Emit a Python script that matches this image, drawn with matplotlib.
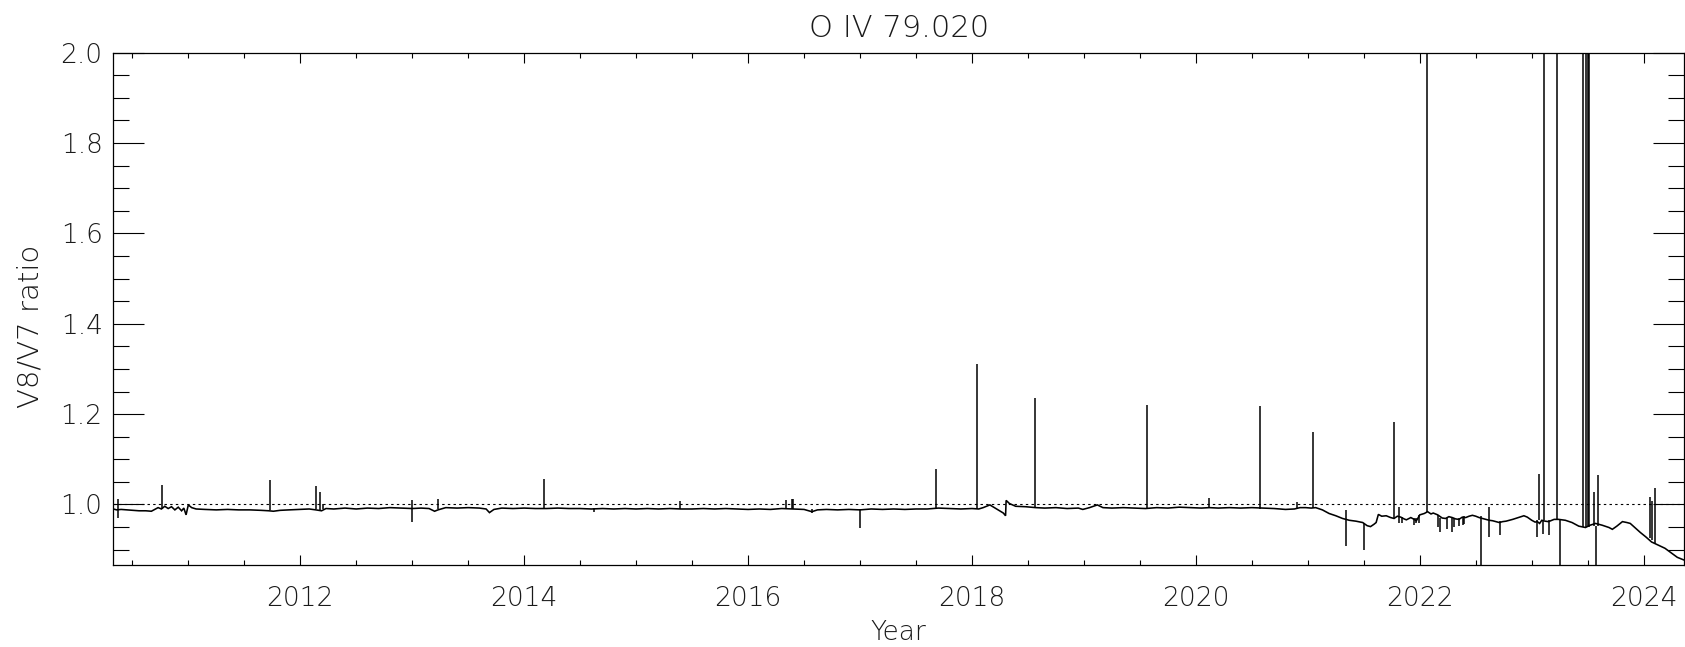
import matplotlib
matplotlib.use('Agg')
import matplotlib.pyplot as plt
from matplotlib.ticker import MultipleLocator

# ---------------- data ----------------
years = [
    2010.33, 2010.36, 2010.40, 2010.45, 2010.50, 2010.56, 2010.62, 2010.67, 2010.70, 2010.73,
    2010.76, 2010.79, 2010.82, 2010.85, 2010.88, 2010.91, 2010.94, 2010.96, 2010.98, 2011.00,
    2011.03, 2011.07, 2011.15, 2011.25, 2011.35, 2011.45, 2011.55, 2011.65, 2011.72, 2011.76,
    2011.82, 2011.90, 2012.00, 2012.08, 2012.14, 2012.19, 2012.23, 2012.30, 2012.40, 2012.50,
    2012.60, 2012.70, 2012.80, 2012.90, 2013.00, 2013.08, 2013.15, 2013.20, 2013.23, 2013.30,
    2013.40, 2013.50, 2013.60, 2013.66, 2013.69, 2013.73, 2013.80, 2013.90, 2014.00, 2014.10,
    2014.20, 2014.30, 2014.40, 2014.50, 2014.60, 2014.70, 2014.80, 2014.90, 2015.00, 2015.10,
    2015.20, 2015.30, 2015.40, 2015.50, 2015.60, 2015.70, 2015.80, 2015.90, 2016.00, 2016.10,
    2016.20, 2016.30, 2016.40, 2016.50, 2016.57, 2016.62, 2016.70, 2016.80, 2016.90, 2017.00,
    2017.10, 2017.20, 2017.30, 2017.40, 2017.50, 2017.60, 2017.70, 2017.80, 2017.90, 2018.00,
    2018.06, 2018.10, 2018.16, 2018.20, 2018.245, 2018.28, 2018.30, 2018.305, 2018.335, 2018.39,
    2018.48, 2018.57, 2018.65, 2018.75, 2018.85, 2018.95, 2018.99, 2019.05, 2019.12, 2019.17,
    2019.25, 2019.35, 2019.45, 2019.55, 2019.65, 2019.75, 2019.85, 2019.95, 2020.05, 2020.12,
    2020.20, 2020.30, 2020.40, 2020.50, 2020.60, 2020.70, 2020.80, 2020.88, 2020.93, 2020.98,
    2021.03, 2021.07, 2021.13, 2021.19, 2021.25, 2021.31, 2021.37, 2021.43, 2021.49, 2021.53,
    2021.56, 2021.59, 2021.61, 2021.63, 2021.66, 2021.70, 2021.74, 2021.77, 2021.80, 2021.83,
    2021.86, 2021.88, 2021.92, 2021.95, 2021.97, 2022.00, 2022.04, 2022.07, 2022.10, 2022.12,
    2022.16, 2022.20, 2022.23, 2022.26, 2022.29, 2022.32, 2022.35, 2022.38, 2022.41, 2022.44,
    2022.47, 2022.50, 2022.53, 2022.56, 2022.59, 2022.62, 2022.65, 2022.68, 2022.71, 2022.74,
    2022.77, 2022.80, 2022.83, 2022.88, 2022.93, 2022.96, 2023.00, 2023.03, 2023.05, 2023.07,
    2023.09, 2023.12, 2023.15, 2023.20, 2023.24, 2023.30, 2023.36, 2023.42, 2023.48, 2023.52,
    2023.57, 2023.63, 2023.69, 2023.72, 2023.76, 2023.81, 2023.85, 2023.88, 2023.93, 2023.97,
    2024.02, 2024.07, 2024.13, 2024.19, 2024.25, 2024.30, 2024.36,
]
ratio = [
    0.990, 0.988, 0.989, 0.988, 0.987, 0.986, 0.986, 0.985, 0.989, 0.993,
    0.990, 0.996, 0.991, 0.995, 0.988, 0.994, 0.986, 0.992, 0.977, 0.999,
    0.993, 0.990, 0.989, 0.988, 0.989, 0.988, 0.988, 0.987, 0.986, 0.985,
    0.987, 0.988, 0.989, 0.990, 0.988, 0.986, 0.991, 0.990, 0.992, 0.990,
    0.992, 0.991, 0.993, 0.992, 0.991, 0.992, 0.991, 0.985, 0.988, 0.993,
    0.992, 0.993, 0.992, 0.990, 0.982, 0.989, 0.992, 0.991, 0.992, 0.991,
    0.991, 0.992, 0.991, 0.991, 0.990, 0.991, 0.990, 0.991, 0.990, 0.991,
    0.990, 0.991, 0.990, 0.990, 0.991, 0.990, 0.991, 0.990, 0.989, 0.990,
    0.989, 0.991, 0.990, 0.989, 0.984, 0.988, 0.989, 0.988, 0.989, 0.988,
    0.990, 0.989, 0.990, 0.989, 0.990, 0.990, 0.992, 0.991, 0.990, 0.991,
    0.990, 0.993, 0.999, 0.993, 0.986, 0.981, 0.975, 1.009, 1.002, 0.996,
    0.995, 0.993, 0.992, 0.993, 0.991, 0.992, 0.989, 0.993, 0.999, 0.993,
    0.992, 0.993, 0.992, 0.991, 0.993, 0.992, 0.994, 0.993, 0.992, 0.993,
    0.992, 0.993, 0.992, 0.993, 0.992, 0.991, 0.989, 0.990, 0.993, 0.993,
    0.992, 0.993, 0.988, 0.980, 0.975, 0.969, 0.965, 0.963, 0.960, 0.953,
    0.951, 0.956, 0.960, 0.978, 0.974, 0.975, 0.971, 0.969, 0.974, 0.972,
    0.968, 0.966, 0.971, 0.967, 0.964, 0.977, 0.980, 0.984, 0.979, 0.981,
    0.977, 0.970, 0.969, 0.973, 0.971, 0.968, 0.967, 0.972, 0.971, 0.974,
    0.976, 0.974, 0.971, 0.969, 0.967, 0.965, 0.964, 0.962, 0.960, 0.962,
    0.963, 0.965, 0.967, 0.971, 0.975, 0.972, 0.965, 0.961, 0.962, 0.958,
    0.965, 0.963, 0.962, 0.967, 0.967, 0.965, 0.960, 0.952, 0.949, 0.954,
    0.958, 0.954, 0.949, 0.945, 0.952, 0.962, 0.960, 0.958, 0.947, 0.938,
    0.928, 0.917, 0.910, 0.903, 0.892, 0.883, 0.877,
]

# isolated one-day excursions (spikes): date, lower end, upper end
spike_years = [
    2010.37, 2010.767, 2011.73, 2012.142, 2012.18, 2012.20, 2013.00, 2013.23, 2014.175, 2014.62,
    2015.39, 2016.34, 2016.39, 2016.40, 2016.57, 2016.997, 2017.677, 2018.044, 2018.565, 2019.56,
    2020.12, 2020.574, 2020.90, 2021.05, 2021.345, 2021.50, 2021.774, 2021.81, 2021.84, 2021.95,
    2021.965, 2021.995, 2022.068, 2022.160, 2022.181, 2022.240, 2022.288, 2022.309, 2022.354, 2022.383,
    2022.398, 2022.55, 2022.62, 2022.72, 2023.045, 2023.065, 2023.10, 2023.113, 2023.157, 2023.229,
    2023.256, 2023.461, 2023.485, 2023.503, 2023.515, 2023.555, 2023.574, 2023.595, 2024.056, 2024.07,
    2024.10,
]
spike_low = [
    0.969, 0.990, 0.987, 0.989, 0.988, 0.990, 0.962, 0.990, 0.991, 0.984,
    0.990, 0.990, 0.990, 0.990, 0.982, 0.949, 0.989, 0.991, 0.993, 0.991,
    0.993, 0.991, 0.990, 0.993, 0.908, 0.899, 0.969, 0.960, 0.960, 0.955,
    0.958, 0.960, 0.984, 0.951, 0.940, 0.946, 0.940, 0.951, 0.952, 0.954,
    0.956, 0.850, 0.927, 0.932, 0.929, 0.965, 0.935, 0.966, 0.932, 0.967,
    0.850, 0.950, 0.950, 0.950, 0.950, 0.952, 0.850, 0.952, 0.925, 0.921,
    0.914,
]
spike_high = [
    1.011, 1.044, 1.054, 1.0415, 1.0275, 1.000, 1.0097, 1.012, 1.0555, 0.992,
    1.0075, 1.0097, 1.011, 1.011, 0.990, 0.989, 1.0776, 1.310, 1.236, 1.220,
    1.015, 1.2174, 1.006, 1.160, 0.988, 0.960, 1.182, 0.994, 0.972, 0.971,
    0.971, 0.977, 2.500, 0.977, 0.970, 0.970, 0.971, 0.971, 0.971, 0.972,
    0.974, 0.975, 0.995, 0.963, 0.965, 1.067, 0.965, 2.500, 0.966, 2.500,
    0.967, 2.500, 2.500, 2.500, 2.500, 1.0275, 0.953, 1.065, 1.0157, 1.007,
    1.0369,
]

title = 'O IV 79.020'
x_label = 'Year'
y_label = 'V8/V7 ratio'
x_ticks = [2012, 2014, 2016, 2018, 2020, 2022, 2024]
y_ticks = [1.0, 1.2, 1.4, 1.6, 1.8, 2.0]
x_range = (2010.33, 2024.36)
y_range = (0.866, 2.0)
reference_level = 1.0

# ---------------- figure ----------------
plt.rcParams['font.family'] = ['DejaVu Sans']
W, H = 1685, 647
fig = plt.figure(figsize=(W / 100, H / 100), dpi=100)
L, R, T, B = 113.3, 1684.0, 52.7, 565.0
ax = fig.add_axes([L / W, 1 - B / H, (R - L) / W, (B - T) / H])

ax.plot(years, ratio, color='black', lw=1.15, solid_joinstyle='miter')
ax.vlines(spike_years, spike_low, spike_high, color='black', lw=1.1)
ax.axhline(reference_level, color='black', lw=0.8, linestyle=(0, (2.2, 2.9)))

ax.set_xlim(*x_range)
ax.set_ylim(*y_range)
ax.set_xticks(x_ticks)
ax.set_xticklabels([str(t) for t in x_ticks])
ax.set_yticks(y_ticks)
ax.set_yticklabels([f'{t:.1f}' for t in y_ticks])
ax.xaxis.set_minor_locator(MultipleLocator(0.5))
ax.yaxis.set_minor_locator(MultipleLocator(0.05))

txt_color = '#1a1a1a'
fs = 19
ax.tick_params(axis='both', which='both', direction='in', top=True, right=True,
               width=0.8, color='black', labelcolor=txt_color, labelsize=fs)
ax.tick_params(axis='x', which='major', length=7.2, pad=15)
ax.tick_params(axis='x', which='minor', length=3.6)
ax.tick_params(axis='y', which='major', length=22.3, pad=7.7)
ax.tick_params(axis='y', which='minor', length=11.2)
for lbl in ax.get_xticklabels() + ax.get_yticklabels():
    lbl.set_fontweight('light')
for s in ax.spines.values():
    s.set_linewidth(0.9)

ax.set_title(title, fontsize=22, color=txt_color, pad=11.3, fontweight='light')
ax.set_xlabel(x_label, fontsize=fs, color=txt_color, fontweight='light')
ax.xaxis.label.set_va('baseline')
ax.xaxis.set_label_coords(0.5, -0.1464)
ax.set_ylabel(y_label, fontsize=21, color=txt_color, fontweight='light')
ax.yaxis.set_label_coords(-0.0435, 0.465)

fig.savefig('out.png', dpi=100)
